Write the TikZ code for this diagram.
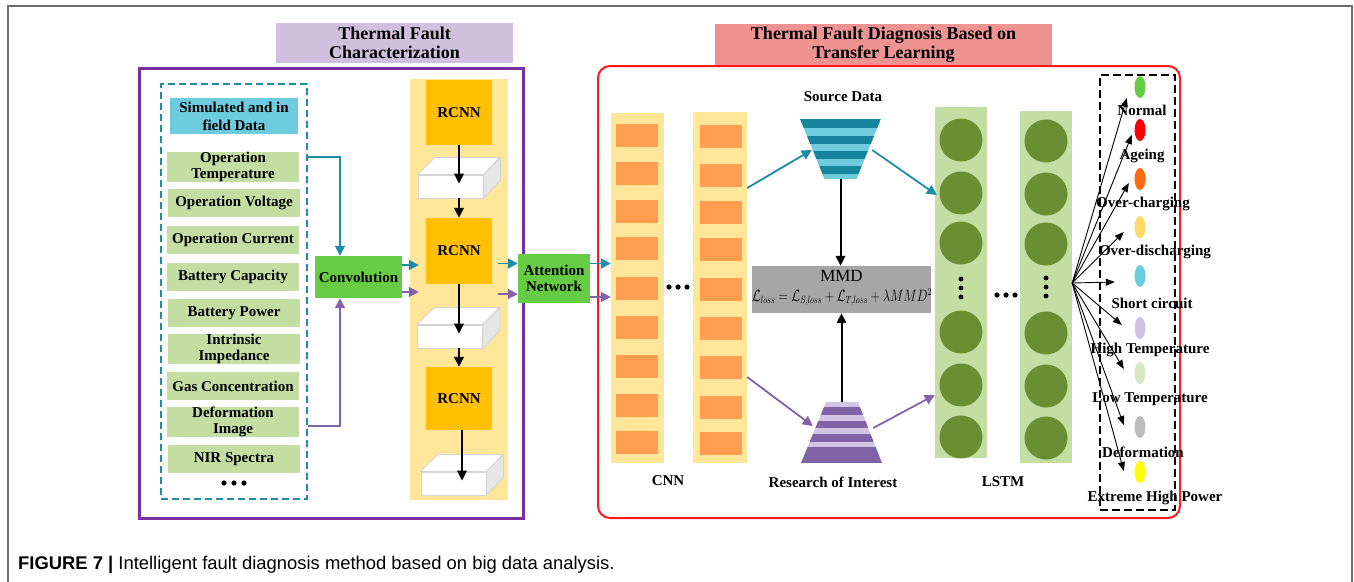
\documentclass[tikz,border=0pt]{standalone}
\usepackage{fontspec}
\setmainfont{Liberation Serif}
\newfontfamily\capfont{Liberation Sans}
\usetikzlibrary{arrows.meta,calc,shapes.geometric}

\definecolor{framegray}{HTML}{6E6E6E}
\definecolor{lavtitle}{HTML}{D0C0DE}
\definecolor{pinktitle}{HTML}{EE9292}
\definecolor{charpurple}{HTML}{7B2FA3}
\definecolor{tealline}{HTML}{1D8CA6}
\definecolor{purpline}{HTML}{8462AA}
\definecolor{cyanfill}{HTML}{6CCCDD}
\definecolor{itemgreen}{HTML}{C3DDA3}
\definecolor{brightgreen}{HTML}{66CC44}
\definecolor{paleyellow}{HTML}{FFE699}
\definecolor{rcnnorange}{HTML}{FFC000}
\definecolor{cnnorange}{HTML}{FF9D50}
\definecolor{cubeedge}{HTML}{D4D4D4}
\definecolor{cubeside}{HTML}{E6E6E6}
\definecolor{mmdgray}{HTML}{A6A6A6}
\definecolor{cellgreen}{HTML}{6A8F33}
\definecolor{tealD}{HTML}{17849D}
\definecolor{tealL}{HTML}{6FCCDD}
\definecolor{purpD}{HTML}{8062A6}
\definecolor{purpL}{HTML}{D2C4E2}
\definecolor{redframe}{HTML}{FF1A1A}
\definecolor{outNormal}{HTML}{66CC44}
\definecolor{outAgeing}{HTML}{FF0000}
\definecolor{outOverC}{HTML}{FF6A0E}
\definecolor{outOverD}{HTML}{FFD966}
\definecolor{outShort}{HTML}{6CCCDD}
\definecolor{outHigh}{HTML}{CFC1E0}
\definecolor{outLow}{HTML}{D7E6C4}
\definecolor{outDef}{HTML}{BDBDBD}
\definecolor{outExt}{HTML}{FFFF00}

\tikzset{
  lbl/.style={font=\fontsize{15}{16}\selectfont\bfseries, align=center, inner sep=0pt, text=black},
  titlebox/.style={font=\fontsize{18}{18.5}\selectfont\bfseries, align=center, inner sep=0pt},
  item/.style={lbl, fill=itemgreen, minimum width=132pt, minimum height=28pt},
  greenbox/.style={lbl, fill=brightgreen},
  rcnn/.style={lbl, fill=rcnnorange, minimum width=66pt},
  cube/.style={fill=white, draw=cubeedge, line width=0.8pt, minimum width=65pt, minimum height=23pt, inner sep=0pt},
  column/.style={fill=paleyellow, inner sep=0pt},
  lstmcol/.style={fill=itemgreen, inner sep=0pt},
  cnncell/.style={fill=cnnorange, minimum width=42pt, minimum height=23pt, inner sep=0pt},
  cell/.style={circle, fill=cellgreen, minimum size=43pt, inner sep=0pt},
  outcls/.style={ellipse, minimum width=11pt, minimum height=22pt, inner sep=0pt, fill=#1},
  tealarr/.style={draw=tealline, line width=1.8pt, -{Triangle[length=10pt,width=10pt]}},
  purparr/.style={draw=purpline, line width=1.8pt, -{Triangle[length=10pt,width=10pt]}},
  blkarr/.style={draw=black, line width=2pt, -{Triangle[length=10pt,width=9.5pt]}},
  fanarr/.style={draw=black, line width=0.9pt, -{Triangle[length=9pt,width=7pt]}},
  srcfunnel/.style={minimum width=81pt, minimum height=60pt, inner sep=0pt,
    path picture={
      \clip (path picture bounding box.north west) -- (path picture bounding box.north east)
        -- ($(path picture bounding box.south east)+(-24.5,0)$)
        -- ($(path picture bounding box.south west)+(24.5,0)$) -- cycle;
      \foreach \a/\b/\c in {0/9/tealD,9/17/tealL,17/25/tealD,25/32/tealL,32/40/tealD,40/47/tealL,47/55/tealD,55/60/tealL}
        \fill[\c] ($(path picture bounding box.north west)+(0,\a)$) rectangle ($(path picture bounding box.north east)+(0,\b)$);
    }},
  resfunnel/.style={minimum width=81pt, minimum height=61pt, inner sep=0pt,
    path picture={
      \clip ($(path picture bounding box.north west)+(25,0)$) -- ($(path picture bounding box.north east)+(-24,0)$)
        -- (path picture bounding box.south east) -- (path picture bounding box.south west) -- cycle;
      \foreach \a/\b/\c in {0/5/purpL,5/12.5/purpD,12.5/18.5/purpL,18.5/26/purpD,26/32/purpL,32/40/purpD,40/45/purpL,45/61/purpD}
        \fill[\c] ($(path picture bounding box.north west)+(0,\a)$) rectangle ($(path picture bounding box.north east)+(0,\b)$);
    }},
}

\begin{document}
\begin{tikzpicture}[x=1pt,y=-1pt]
\useasboundingbox (0,0) rectangle (1354,581);

% frame round the whole figure
\draw[framegray, line width=1.5pt] (8,600) -- (8,6) -- (1352,6) -- (1352,600);

% ---------------- thermal fault characterization ----------------
\node[titlebox, fill=lavtitle, minimum width=237pt, minimum height=40pt] (t1) at (394.5,43) {Thermal Fault\\Characterization};
\node[draw=charpurple, line width=3pt, minimum width=384pt, minimum height=450pt, inner sep=0pt] (charfr) at (331,293) {};
\node[draw=tealline, line width=2pt, dash pattern=on 7pt off 4pt, minimum width=146pt, minimum height=415pt, inner sep=0pt] (data) at (234,291.5) {};

\node[lbl, font=\fontsize{15}{18}\selectfont\bfseries, fill=cyanfill, minimum width=128pt, minimum height=36pt] (sim) at (234,116) {Simulated and in\\field Data};
\node[item] (ot)  at (233,167)   {Operation\\Temperature};
\node[item] (ov)  at (234,203)   {Operation Voltage};
\node[item] (oc)  at (233,240)   {Operation Current};
\node[item] (bc)  at (233,276.5) {Battery Capacity};
\node[item] (bp)  at (234,313)   {Battery Power};
\node[item] (ii)  at (234,349)   {Intrinsic\\Impedance};
\node[item] (gc)  at (233,386)   {Gas Concentration};
\node[item] (di)  at (233,422)   {Deformation\\Image};
\node[item] (nir) at (234,459)   {NIR Spectra};
\foreach \x in {224,234,244} \fill (\x,483) circle (2.6pt);

\node[greenbox, minimum width=87pt, minimum height=42pt] (conv) at (358.5,277) {Convolution};

\node[column, minimum width=98pt, minimum height=421pt] (rcol) at (459,289.5) {};
\node[rcnn, minimum height=65pt] (r1) at (459,112.5) {RCNN};
\node[rcnn, minimum height=66pt] (r2) at (459,251)   {RCNN};
\node[rcnn, minimum height=63pt] (r3) at (459,398.5) {RCNN};
\node[cube] (b1) at (450.5,186.5) {};
\node[cube] (b2) at (450,336.5)   {};
\node[cube] (b3) at (453.5,483.5) {};
\foreach \b in {b1,b2,b3} {
  \filldraw[fill=white, draw=cubeedge, line width=0.8pt] (\b.north west) -- ++(17,-17) -- ++(65,0) -- (\b.north east) -- cycle;
  \filldraw[fill=cubeside, draw=cubeedge, line width=0.8pt] (\b.north east) -- ++(17,-17) -- ++(0,23) -- (\b.south east) -- cycle;
}

\node[greenbox, minimum width=72pt, minimum height=49pt] (att) at (554,278.5) {Attention\\Network};

% inputs into the convolution
\draw[tealarr] ([yshift=-5pt]ot.north -| data.east) -| ([xshift=-18.5pt]conv.north);
\draw[purparr] ([yshift=-4pt]di.east -| data.east) -| ([xshift=-18.5pt]conv.south);
% convolution into the RCNN stack
\draw[tealarr, shorten >=-9pt] ([yshift=12pt]conv.east) -- ([yshift=12pt]conv.east -| rcol.west);
\draw[purparr, shorten >=-9pt] ([yshift=-15pt]conv.east) -- ([yshift=-15pt]conv.east -| rcol.west);
% RCNN stack
\draw[blkarr, shorten >=-9pt] (r1.south) -- (r1.south |- b1.north);
\draw[blkarr] (r2.north |- b1.south) -- (r2.north);
\draw[blkarr, shorten >=-9pt] (r2.south) -- (r2.south |- b2.north);
\draw[blkarr] (r3.north |- b2.south) -- (r3.north);
\draw[blkarr, shorten >=-9pt] ([xshift=3pt]r3.south) -- ([xshift=3pt]r3.south |- b3.north);
% RCNN stack into the attention network
\draw[tealarr, shorten <=-10pt] ([yshift=15pt]att.west -| rcol.east) -- ([yshift=15pt]att.west);
\draw[purparr, shorten <=-10pt] ([yshift=-15.5pt]att.west -| rcol.east) -- ([yshift=-15.5pt]att.west);

% ---------------- thermal fault diagnosis ----------------
\node[titlebox, fill=pinktitle, minimum width=337pt, minimum height=41pt] (t2) at (883.5,44.5) {Thermal Fault Diagnosis Based on\\Transfer Learning};
\node[draw=redframe, line width=2pt, rounded corners=12pt, minimum width=582pt, minimum height=452pt, inner sep=0pt] (diagfr) at (889,292) {};

\node[column, minimum width=53pt, minimum height=350pt] (c1) at (637.5,288) {};
\node[column, minimum width=54pt, minimum height=351pt] (c2) at (720,287.5) {};
\foreach \k/\y in {1/135,2/173.5,3/211,4/248,5/288,6/327,7/366,8/405.5,9/442} {
  \node[cnncell] (c1r\k) at (637,\y) {};
  \node[cnncell] (c2r\k) at (721,\y+1.5) {};
}
\foreach \x in {669,678,687} \fill (\x,287) circle (2.6pt);
\node[lbl] (cnnlbl) at (668,481) {CNN};

\draw[tealarr] ([yshift=15pt]att.east) -- ([yshift=15pt]att.east -| c1.west);
\draw[purparr] ([yshift=-18.5pt]att.east) -- ([yshift=-18.5pt]att.east -| c1.west);

\node[lbl] (srclbl) at (843,97) {Source Data};
\node[srcfunnel] (src) at (840.5,149) {};
\node[resfunnel] (res) at (841.5,432.5) {};
\node[lbl] (reslbl) at (833,482) {Research of Interest};

\node[fill=mmdgray, minimum width=179pt, minimum height=47pt, inner sep=0pt] (mmd) at (841.5,289.5) {};
\node[font=\fontsize{17}{17}\selectfont, inner sep=0pt] (mmdtxt) at (841.5,276) {MMD};
\node[font=\fontsize{16}{16}\selectfont, inner sep=0pt] (mmdeq) at (842,297)
  {\scalebox{0.74}[0.95]{$\mathcal{L}_{loss}=\mathcal{L}_{S,loss}+\mathcal{L}_{T,loss}+\lambda MMD^2$}};

\draw[tealarr] ([yshift=99.5pt]c2.east) -- ($(src.west)+(12,1)$);
\draw[purparr] ([yshift=-89.5pt]c2.east) -- ($(res.west)+(12,-6.5)$);
\draw[blkarr] (src.south) -- (src.south |- mmd.north);
\draw[blkarr] (res.north) -- (res.north |- mmd.south);

\node[lstmcol, minimum width=52pt, minimum height=351pt] (l1) at (961,282.5) {};
\node[lstmcol, minimum width=52pt, minimum height=352pt] (l2) at (1046,287) {};
\foreach \k/\y in {1/140,2/193,3/243,4/332,5/385,6/437} {
  \node[cell] (l1c\k) at (961,\y) {};
  \node[cell] (l2c\k) at (1046,\y+1) {};
}
\foreach \y in {279,288,297} {
  \fill (961,\y) circle (2.4pt);
  \fill (1046,\y-1) circle (2.4pt);
}
\foreach \x in {997,1006,1015} \fill (\x,295) circle (2.6pt);
\node[lbl] (lstmlbl) at (1003,482) {LSTM};

\draw[tealarr] ($(src.east)+(-9,1)$) -- ([yshift=87.5pt, xshift=2pt]l1.west);
\draw[purparr] ($(res.east)+(-9,-4.5)$) -- ([yshift=-112.5pt]l1.west);

% output classes
\node[draw=black, line width=1.3pt, dash pattern=on 8pt off 4pt, minimum width=75pt, minimum height=435pt, inner sep=0pt] (outbox) at (1137.5,292.5) {};
\node[outcls=outNormal] (o1) at (1140,87)  {};
\node[outcls=outAgeing] (o2) at (1140,130) {};
\node[outcls=outOverC]  (o3) at (1140,179) {};
\node[outcls=outOverD]  (o4) at (1140,227) {};
\node[outcls=outShort]  (o5) at (1140,276) {};
\node[outcls=outHigh]   (o6) at (1140,328) {};
\node[outcls=outLow]    (o7) at (1140,373) {};
\node[outcls=outDef]    (o8) at (1140,427) {};
\node[outcls=outExt]    (o9) at (1140,472) {};
\foreach \i/\dx/\dy in {1/-7.5/11,2/-2.5/5,3/-5.5/4,4/-10.5/5,5/-19.5/6,6/-12.5/-3,7/-10.5/-4,8/-10.5/-2,9/-10.5/-1}
  \draw[fanarr] ([yshift=4pt]l2.east) -- ($(o\i.west)+(\dx,\dy)$);

\node[lbl] (n1) at (1142,110) {Normal};
\node[lbl] (n2) at (1142,156) {Ageing};
\node[lbl] (n3) at (1143,204) {Over-charging};
\node[lbl] (n4) at (1155,252) {Over-discharging};
\node[lbl] (n5) at (1152,303) {Short circuit};
\node[lbl] (n6) at (1150,350) {High Temperature};
\node[lbl] (n7) at (1150,399) {Low Temperature};
\node[lbl] (n8) at (1143,452) {Deformation};
\node[lbl] (n9) at (1155,498) {Extreme High Power};

% caption
\node[anchor=base west, inner sep=0pt, font=\capfont\fontsize{18.4}{18.4}\selectfont] (cap) at (18,569)
  {\textbf{FIGURE 7 |} Intelligent fault diagnosis method based on big data analysis.};
\end{tikzpicture}
\end{document}
